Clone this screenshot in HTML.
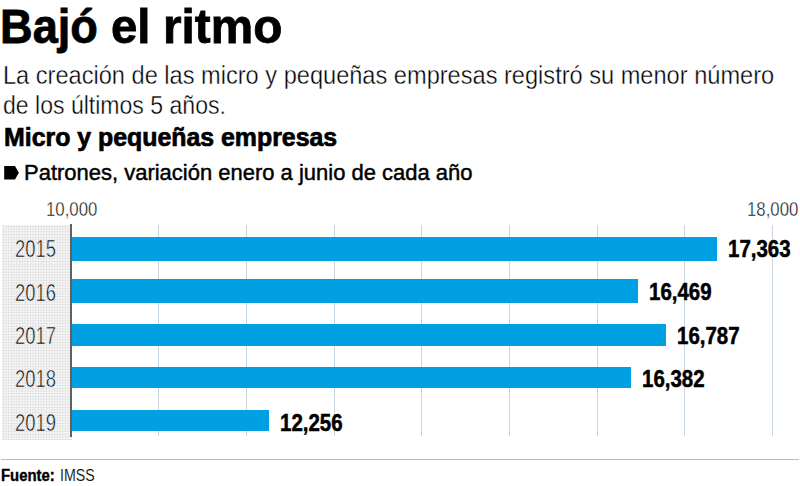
<!DOCTYPE html>
<html>
<head>
<meta charset="utf-8">
<style>
html,body{margin:0;padding:0;background:#fff;}
body{width:800px;height:486px;position:relative;overflow:hidden;font-family:"Liberation Sans",sans-serif;color:#000;}
.t{position:absolute;white-space:nowrap;line-height:1;transform-origin:0 0;}
.ttl{top:2.2px;font-size:49px;font-weight:bold;-webkit-text-stroke:0.8px #000;color:#000;}
.sub{left:3px;font-size:26.2px;color:#000;-webkit-text-stroke:0.4px #fff;}
#sub1{top:62px;transform:scaleX(0.901);}
#sub2{top:92px;transform:scaleX(0.88);}
#micro{left:4px;top:125px;font-size:25px;font-weight:bold;transform:scaleX(0.995);-webkit-text-stroke:0.7px #000;}
#leg{position:absolute;left:4px;top:166px;width:19px;height:14px;}
#pat{left:24px;top:161.5px;font-size:22.5px;color:#000;transform:scaleX(0.977);-webkit-text-stroke:0.45px #000;}
.ax{font-size:20.3px;color:#000;-webkit-text-stroke:0.45px #fff;transform:scaleX(0.828);}
#pattern{position:absolute;left:2px;top:225px;width:70px;height:215px;}
#axis{position:absolute;left:70px;top:224px;width:2px;height:213px;background:#606060;}
.grid{position:absolute;top:225px;width:1px;height:211px;background:#c8d6e3;}
.bar{position:absolute;left:72px;background:#00a0e3;}
.yr{font-size:23.3px;color:#000;-webkit-text-stroke:0.6px #f0f0f0;transform:scaleX(0.79);}
.val{font-size:23px;font-weight:bold;color:#000;transform:scaleX(0.89);-webkit-text-stroke:0.5px #000;}
#sep{position:absolute;left:1px;top:459px;width:798px;height:1px;background:#bbbbbb;}
#fuente{left:1px;top:466.5px;font-size:17.4px;font-weight:bold;transform:scaleX(0.855);-webkit-text-stroke:0.4px #000;}
#imss{left:60px;top:466.5px;font-size:17.4px;-webkit-text-stroke:0.15px #fff;transform:scaleX(0.816);}
</style>
</head>
<body>
<div class="t ttl" style="left:-0.1px;transform:scaleX(0.922);">Bajó</div>
<div class="t ttl" style="left:111.1px;transform:scaleX(0.966);">el</div>
<div class="t ttl" style="left:163.2px;transform:scaleX(0.974);">ritmo</div>
<div class="t sub" id="sub1">La creación de las micro y pequeñas empresas registró su menor número</div>
<div class="t sub" id="sub2">de los últimos 5 años.</div>
<div class="t" id="micro">Micro y pequeñas empresas</div>
<svg id="leg" viewBox="0 0 19 14"><polygon points="0.2,0 11,0 14.9,6.75 11,13.5 0.2,13.5" fill="#000"/></svg>
<div class="t" id="pat">Patrones, variación enero a junio de cada año</div>
<div class="t ax" style="left:46px;top:199px;">10,000</div>
<div class="t ax" style="left:747px;top:199px;">18,000</div>

<svg id="pattern" width="70" height="215"><defs><pattern id="pt" patternUnits="userSpaceOnUse" width="2.7" height="2.7"><rect x="0.5" y="0.5" width="1.7" height="1.7" fill="#d0d0d0"/></pattern></defs><rect width="70" height="215" fill="url(#pt)"/></svg>
<div class="grid" style="left:158px"></div>
<div class="grid" style="left:246px"></div>
<div class="grid" style="left:334px"></div>
<div class="grid" style="left:421px"></div>
<div class="grid" style="left:509px"></div>
<div class="grid" style="left:597px"></div>
<div class="grid" style="left:684px"></div>
<div class="grid" style="left:772px"></div>
<div id="axis"></div>

<div class="bar" style="top:237px;height:24px;width:645px;"></div>
<div class="bar" style="top:279px;height:24px;width:566px;"></div>
<div class="bar" style="top:324px;height:21.5px;width:594px;"></div>
<div class="bar" style="top:367px;height:21px;width:559px;"></div>
<div class="bar" style="top:410px;height:21px;width:197px;"></div>

<div class="t yr" style="left:15px;top:238px;">2015</div>
<div class="t yr" style="left:15px;top:282px;">2016</div>
<div class="t yr" style="left:15px;top:325px;">2017</div>
<div class="t yr" style="left:15px;top:368px;">2018</div>
<div class="t yr" style="left:15px;top:412px;">2019</div>



<div class="t val" style="left:728px;top:238px;">17,363</div>
<div class="t val" style="left:649px;top:281px;">16,469</div>
<div class="t val" style="left:676.5px;top:325px;">16,787</div>
<div class="t val" style="left:642px;top:368px;">16,382</div>
<div class="t val" style="left:280px;top:411.5px;">12,256</div>

<div id="sep"></div>
<div class="t" id="fuente">Fuente:</div>
<div class="t" id="imss">IMSS</div>
</body>
</html>
